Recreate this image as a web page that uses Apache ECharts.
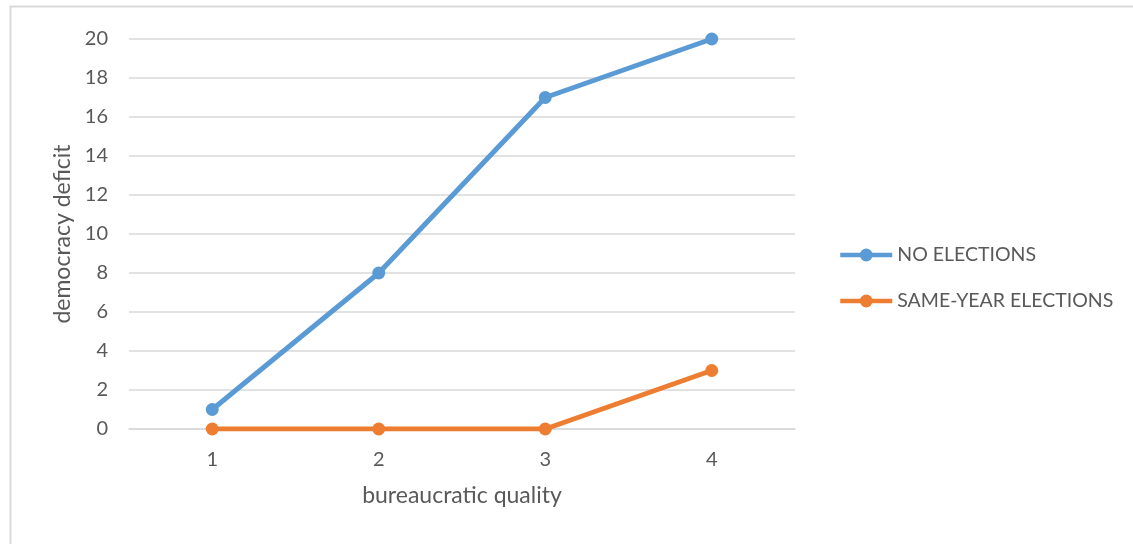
<!DOCTYPE html>
<html>
<head>
<meta charset="utf-8">
<script src="https://cdn.jsdelivr.net/npm/echarts@6/dist/echarts.min.js"></script>
<style>
  html, body { margin: 0; padding: 0; background: #fff; }
  #chart { width: 1133px; height: 544px; }
</style>
</head>
<body>
<div id="chart"></div>
<script>
// Democracy deficit by bureaucratic quality
const categories = ['1', '2', '3', '4'];
const noElections = [1, 8, 17, 20];
const sameYearElections = [0, 0, 0, 3];
const yTicks = { min: 0, max: 20, interval: 2 };

const FONT = 'Lato, "Open Sans", sans-serif';
const TEXT = '#595959';
const GRID = '#d9d9d9';

const chart = echarts.init(document.getElementById('chart'), null, { renderer: 'canvas' });
chart.setOption({
  backgroundColor: '#ffffff',
  animation: false,
  textStyle: { fontFamily: FONT, color: TEXT },
  graphic: [{
    type: 'rect',
    shape: { x: 10.5, y: 6.5, width: 1140, height: 560 },
    style: { fill: 'none', stroke: GRID, lineWidth: 2 },
    silent: true
  }],
  grid: { left: 129, right: 338, top: 39, bottom: 115, containLabel: false },
  legend: {
    orient: 'vertical',
    left: 833,
    top: 240,
    itemWidth: 52,
    itemHeight: 16,
    itemGap: 26,
    lineStyle: { width: 4.5 },
    textStyle: { fontFamily: FONT, fontSize: 19.5, color: TEXT },
    data: ['NO ELECTIONS', 'SAME-YEAR ELECTIONS']
  },
  xAxis: {
    type: 'category',
    data: categories,
    boundaryGap: true,
    name: 'bureaucratic quality',
    nameLocation: 'middle',
    nameGap: 55,
    nameTextStyle: { fontFamily: FONT, fontSize: 23, color: TEXT },
    axisLine: { show: true, lineStyle: { color: GRID, width: 1.5 } },
    axisTick: { show: false },
    axisLabel: { fontFamily: FONT, fontSize: 20, color: TEXT, margin: 21 }
  },
  yAxis: {
    type: 'value',
    min: yTicks.min,
    max: yTicks.max,
    interval: yTicks.interval,
    name: 'democracy deficit',
    nameLocation: 'middle',
    nameGap: 54,
    nameRotate: 90,
    nameTextStyle: { fontFamily: FONT, fontSize: 23, color: TEXT },
    axisLine: { show: false },
    axisTick: { show: false },
    axisLabel: { fontFamily: FONT, fontSize: 20, color: TEXT, margin: 21 },
    splitLine: { show: true, lineStyle: { color: GRID, width: 1.5 } }
  },
  series: [
    {
      name: 'NO ELECTIONS',
      type: 'line',
      data: noElections,
      color: '#5b9bd5',
      symbol: 'circle',
      symbolSize: 13,
      lineStyle: { width: 5, color: '#5b9bd5' },
      itemStyle: { color: '#5b9bd5' }
    },
    {
      name: 'SAME-YEAR ELECTIONS',
      type: 'line',
      data: sameYearElections,
      color: '#ed7d31',
      symbol: 'circle',
      symbolSize: 13,
      lineStyle: { width: 5, color: '#ed7d31' },
      itemStyle: { color: '#ed7d31' }
    }
  ]
});
</script>
</body>
</html>
